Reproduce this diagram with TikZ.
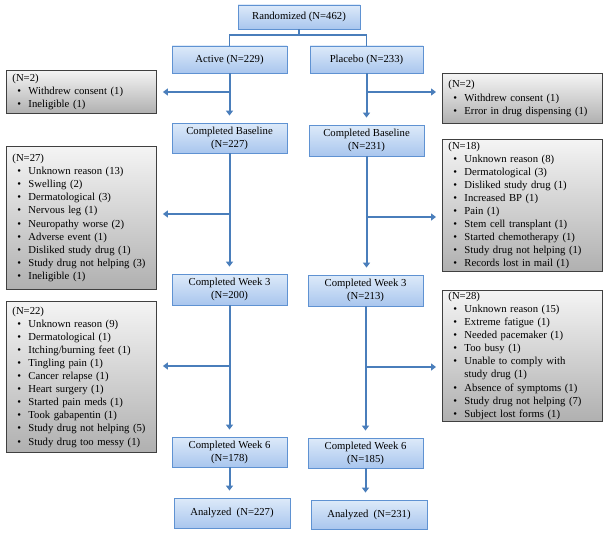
\documentclass[tikz,border=0pt]{standalone}
\usepackage{fontspec}
\setmainfont{Liberation Serif}
\usepackage{xcolor}
\usepackage{tikz}
\usetikzlibrary{arrows.meta}

\definecolor{linkblue}{HTML}{4A7EBB}
\definecolor{boxedge}{HTML}{5F92D2}
\definecolor{boxtop}{HTML}{DDEAF9}
\definecolor{boxbot}{HTML}{A9C6EE}
\definecolor{droptop}{HTML}{F4F4F4}
\definecolor{dropbot}{HTML}{B0B0B0}
\definecolor{dropedge}{HTML}{404040}

% bullet line inside a dropout box
\newcommand{\itm}[1]{\makebox[16pt][l]{\hspace{5pt}\textbullet}\mbox{#1}}

\begin{document}
\begin{tikzpicture}[x=1pt, y=-1pt,
    every node/.style={font=\fontsize{10.7}{13.1}\selectfont},
    stage/.style={draw=boxedge, line width=0.8pt, top color=boxtop, bottom color=boxbot,
        align=center, minimum width=115pt, inner sep=2pt},
    drop/.style={draw=dropedge, line width=0.9pt, top color=droptop, bottom color=dropbot,
        align=left, anchor=north west, inner xsep=6pt, inner ysep=1.5pt},
    link/.style={draw=linkblue, line width=2pt},
    arr/.style={link, -{Triangle[length=5pt, width=7pt]}, shorten >=7pt}]
    \useasboundingbox (0,0) rectangle (604,535);

    % Stages
    \node[stage, minimum width=122pt, minimum height=24pt] (rand) at (299,17) {Randomized (N=462)};
    \node[stage, minimum height=27pt] (active) at (229.5,59.5) {Active (N=229)};
    \node[stage, minimum width=113pt, minimum height=27pt] (placebo) at (366.5,59.5) {Placebo (N=233)};
    \node[stage, minimum height=30pt] (baseA) at (229.5,138) {Completed Baseline\\(N=227)};
    \node[stage, minimum height=31pt] (baseP) at (366.5,140.5) {Completed Baseline\\(N=231)};
    \node[stage, minimum height=31pt] (wk3A) at (229.5,289.5) {Completed Week 3\\(N=200)};
    \node[stage, minimum height=31pt] (wk3P) at (365.5,290.5) {Completed Week 3\\(N=213)};
    \node[stage, minimum height=30pt] (wk6A) at (229.5,452) {Completed Week 6\\(N=178)};
    \node[stage, minimum height=30pt] (wk6P) at (365.5,453) {Completed Week 6\\(N=185)};
    \node[stage, minimum width=116pt, minimum height=30pt] (anaA) at (232,513) {Analyzed~ (N=227)};
    \node[stage, minimum width=116pt, minimum height=29pt] (anaP) at (369,514.5) {Analyzed~ (N=231)};

    % Dropouts, active arm
    \node[drop, text width=138pt, minimum height=43pt] (dropA1) at (6,70)
        {(N=2)\\ \itm{Withdrew consent (1)}\\ \itm{Ineligible (1)}};
    \node[drop, text width=138pt, minimum height=143pt] (dropA2) at (6,146)
        {(N=27)\\ \itm{Unknown reason (13)}\\ \itm{Swelling (2)}\\ \itm{Dermatological (3)}\\
         \itm{Nervous leg (1)}\\ \itm{Neuropathy worse (2)}\\ \itm{Adverse event (1)}\\
         \itm{Disliked study drug (1)}\\ \itm{Study drug not helping (3)}\\ \itm{Ineligible (1)}};
    \node[drop, text width=138pt, minimum height=151pt] (dropA3) at (6,301)
        {(N=22)\\ \itm{Unknown reason (9)}\\ \itm{Dermatological (1)}\\ \itm{Itching/burning feet (1)}\\
         \itm{Tingling pain (1)}\\ \itm{Cancer relapse (1)}\\ \itm{Heart surgery (1)}\\
         \itm{Started pain meds (1)}\\ \itm{Took gabapentin (1)}\\ \itm{Study drug not helping (5)}\\
         \itm{Study drug too messy (1)}};

    % Dropouts, placebo arm
    \node[drop, text width=148pt, minimum height=50pt] (dropP1) at (442,73)
        {(N=2)\\ \itm{Withdrew consent (1)}\\ \itm{Error in drug dispensing (1)}};
    \node[drop, text width=148pt, minimum height=132pt] (dropP2) at (442,139)
        {(N=18)\\ \itm{Unknown reason (8)}\\ \itm{Dermatological (3)}\\ \itm{Disliked study drug (1)}\\
         \itm{Increased BP (1)}\\ \itm{Pain (1)}\\ \itm{Stem cell transplant (1)}\\
         \itm{Started chemotherapy (1)}\\ \itm{Study drug not helping (1)}\\ \itm{Records lost in mail (1)}};
    \node[drop, text width=148pt, minimum height=123pt] (dropP3) at (442,290)
        {(N=28)\\ \itm{Unknown reason (15)}\\ \itm{Extreme fatigue (1)}\\ \itm{Needed pacemaker (1)}\\
         \itm{Too busy (1)}\\ \itm{Unable to comply with}\\ \hspace*{16pt}study drug (1)\\
         \itm{Absence of symptoms (1)}\\ \itm{Study drug not helping (7)}\\ \itm{Subject lost forms (1)}};

    % Split after randomization
    \coordinate (split) at (299,35);
    \draw[link, line width=1.6pt] (rand) -- (split) -| (active);
    \draw[link, line width=1.6pt] (split) -| (placebo);

    % Down arrows
    \foreach \a/\b in {active/baseA, baseA/wk3A, wk3A/wk6A, wk6A/anaA,
                       placebo/baseP, baseP/wk3P, wk3P/wk6P, wk6P/anaP}
    {
        \draw[arr] (\a.south) -- (\a.south |- \b.north);
    }

    % Branch points
    \coordinate (brA1) at (229.5,92);
    \coordinate (brA2) at (229.5,214);
    \coordinate (brA3) at (229.5,366);
    \coordinate (brP1) at (366.5,92);
    \coordinate (brP2) at (366.5,217);
    \coordinate (brP3) at (365.5,367);

    % Left arrows
    \foreach \n in {A1,A2,A3}
    {
        \draw[arr, shorten >=6pt] (br\n) -- (br\n -| drop\n.east);
    }
    % Right arrows
    \foreach \n in {P1,P2,P3}
    {
        \draw[arr, shorten >=6pt] (br\n) -- (br\n -| drop\n.west);
    }
\end{tikzpicture}
\end{document}
